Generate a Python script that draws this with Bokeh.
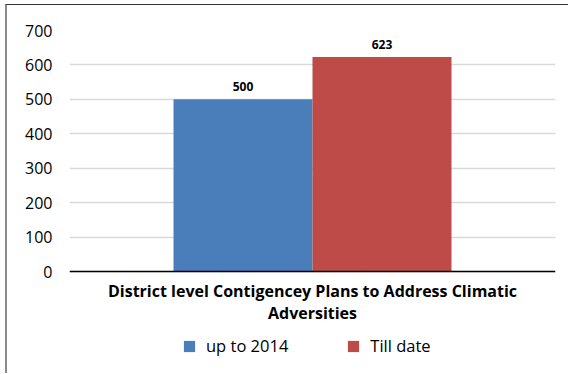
from bokeh.plotting import figure
from bokeh.models import ColumnDataSource, Legend, LegendItem, Range1d, FactorRange, Span
from bokeh.transform import dodge
from bokeh.core.properties import value
from bokeh.embed import file_html
from bokeh.resources import INLINE

category = ["District level Contigencey Plans to Address Climatic\nAdversities"]
series_names = ["up to 2014", "Till date"]
series_values = [500, 623]
series_colors = ["#4A7EBB", "#BE4B48"]
y_ticks = [0, 100, 200, 300, 400, 500, 600, 700]

FONT = "Open Sans"

# layout (page pixels): plot top (700) at 30, baseline (0) at 271, frame bottom at 370
Y_MAX = 700
y_start = -Y_MAX * (370 - 271) / (271 - 30)

p = figure(
    x_range=FactorRange(*category),
    y_range=Range1d(y_start, Y_MAX),
    width=563, height=369,
    output_backend="svg", toolbar_location=None,
    x_axis_location=None,
    min_border_left=62, min_border_right=15, min_border_top=25, min_border_bottom=4,
    styles={"margin-left": "5px", "margin-top": "4px",
            "border-top": "1px solid #333333", "border-left": "2px solid #8a8a8a"},
)
p.outline_line_color = None
p.xgrid.grid_line_color = None
p.ygrid.grid_line_color = "#d9d9d9"
p.ygrid.grid_line_width = 1.3
p.yaxis.ticker = y_ticks
p.yaxis.axis_line_color = None
p.yaxis.major_tick_line_color = None
p.yaxis.minor_tick_line_color = None
p.yaxis.major_label_text_font = FONT
p.yaxis.major_label_text_font_size = "16px"
p.yaxis.major_label_text_color = "#000000"
p.yaxis.major_label_standoff = 11

# category baseline (x axis line)
p.add_layout(Span(location=0, dimension="width", line_color="#000000", line_width=1.3))

bar_w = 0.286
offsets = [-bar_w / 2, bar_w / 2]
items = []
for name, val, col, off in zip(series_names, series_values, series_colors, offsets):
    src = ColumnDataSource(dict(x=category, y=[val], lbl=[str(val)]))
    r = p.vbar(x=dodge("x", off, range=p.x_range), top="y", width=bar_w, source=src,
               fill_color=col, line_color=None)
    p.text(x=dodge("x", off, range=p.x_range), y="y", text="lbl", source=src,
           text_align="center", text_baseline="alphabetic", y_offset=-13,
           text_font=value(FONT), text_font_style="bold", text_font_size="12px",
           text_color="#000000")
    items.append(LegendItem(label=name, renderers=[r]))

# category label below the baseline
cat_src = ColumnDataSource(dict(x=category, y=[0], t=category))
p.text(x="x", y="y", text="t", source=cat_src, text_align="center", text_baseline="top",
       y_offset=8, text_font=value(FONT), text_font_style="bold", text_font_size="16px",
       text_line_height=1.02, text_color="#000000")

legend = Legend(items=items, orientation="horizontal", location=(113, 13),
                glyph_width=14, glyph_height=14, label_standoff=10, spacing=58,
                padding=0, margin=0, border_line_color=None, background_fill_alpha=0,
                label_text_font=FONT, label_text_font_size="16.5px", label_height=14,
                label_text_color="#000000")
p.add_layout(legend)

open("out.html", "w").write(file_html(p, INLINE))
